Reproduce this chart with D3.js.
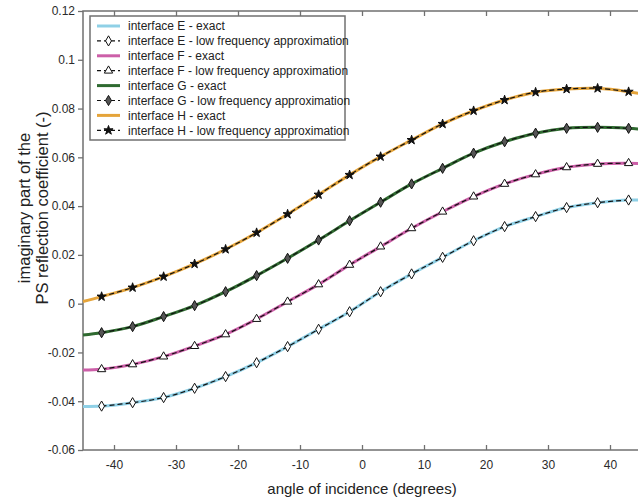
<!DOCTYPE html>
<html>
<head>
<meta charset="utf-8">
<script src="https://cdn.jsdelivr.net/npm/d3@7"></script>
<style>
  body { margin: 0; background: #fff; }
  svg { display: block; font-family: "Liberation Sans", Arial, sans-serif; }
</style>
</head>
<body>
<div id="chart"></div>
<script>
// marker angles of the low frequency approximation
const markerAngles = [-42, -37, -32, -27, -22, -17, -12, -7, -2, 3, 8, 13, 18, 23, 28, 33, 38, 43];
const approxE = [-0.0420, -0.0406, -0.0385, -0.0347, -0.0299, -0.0242, -0.0176, -0.0105, -0.0033, 0.0049, 0.0122, 0.0190, 0.0258, 0.0316, 0.0357, 0.0394, 0.0414, 0.0425];
const approxF = [-0.0269, -0.0249, -0.0217, -0.0174, -0.0126, -0.0063, 0.0008, 0.0079, 0.0159, 0.0234, 0.0309, 0.0377, 0.0439, 0.0491, 0.0530, 0.0559, 0.0573, 0.0576];
const approxG = [-0.0119, -0.0094, -0.0053, -0.0008, 0.0049, 0.0115, 0.0186, 0.0261, 0.0340, 0.0416, 0.0491, 0.0555, 0.0617, 0.0664, 0.0699, 0.0719, 0.0723, 0.0719];
const approxH = [0.0029, 0.0066, 0.0111, 0.0163, 0.0223, 0.0291, 0.0367, 0.0447, 0.0528, 0.0603, 0.0671, 0.0737, 0.0791, 0.0835, 0.0867, 0.0880, 0.0883, 0.0869];

// exact curves, read at the same angles plus the two ends
const exactAngles = [-45, -42, -37, -32, -27, -22, -17, -12, -7, -2, 3, 8, 13, 18, 23, 28, 33, 38, 43, 45];
const exactE = [-0.0422, -0.0420, -0.0406, -0.0385, -0.0347, -0.0299, -0.0242, -0.0176, -0.0105, -0.0033, 0.0049, 0.0122, 0.0190, 0.0258, 0.0316, 0.0357, 0.0394, 0.0414, 0.0425, 0.0424];
const exactF = [-0.0272, -0.0269, -0.0249, -0.0217, -0.0174, -0.0126, -0.0063, 0.0008, 0.0079, 0.0159, 0.0234, 0.0309, 0.0377, 0.0439, 0.0491, 0.0530, 0.0559, 0.0573, 0.0576, 0.0574];
const exactG = [-0.0128, -0.0119, -0.0094, -0.0053, -0.0008, 0.0049, 0.0115, 0.0186, 0.0261, 0.0340, 0.0416, 0.0491, 0.0555, 0.0617, 0.0664, 0.0699, 0.0719, 0.0723, 0.0719, 0.0715];
const exactH = [0.0009, 0.0029, 0.0066, 0.0111, 0.0163, 0.0223, 0.0291, 0.0367, 0.0447, 0.0528, 0.0603, 0.0671, 0.0737, 0.0791, 0.0835, 0.0867, 0.0880, 0.0883, 0.0869, 0.0860];

const xTicks = [-40, -30, -20, -10, 0, 10, 20, 30, 40];
const xTickLabels = ['-40', '-30', '-20', '-10', '0', '10', '20', '30', '40'];
const yTicks = [-0.06, -0.04, -0.02, 0, 0.02, 0.04, 0.06, 0.08, 0.1, 0.12];
const yTickLabels = ['-0.06', '-0.04', '-0.02', '0', '0.02', '0.04', '0.06', '0.08', '0.1', '0.12'];

const legendLabels = [
  'interface E - exact', 'interface E - low frequency approximation',
  'interface F - exact', 'interface F - low frequency approximation',
  'interface G - exact', 'interface G - low frequency approximation',
  'interface H - exact', 'interface H - low frequency approximation'
];

const series = [
  {exact: exactE, approx: approxE, color: '#8fd0e6', symbol: d3.symbolDiamond, fill: '#fff', size: 30},
  {exact: exactF, approx: approxF, color: '#cc5fa8', symbol: d3.symbolTriangle, fill: '#fff', size: 30},
  {exact: exactG, approx: approxG, color: '#2f6a30', symbol: d3.symbolDiamond, fill: '#555', size: 30},
  {exact: exactH, approx: approxH, color: '#e5a43a', symbol: d3.symbolStar, fill: '#111', size: 26}
];

const svg = d3.select('#chart').append('svg').attr('width', 638).attr('height', 499);

const margin = {top: 11, left: 83},
      width = 558,
      height = 439;

const x = d3.scaleLinear().domain([-45, 45]).range([0, width]);
const y = d3.scaleLinear().domain([-0.06, 0.12]).range([height, 0]);

const g = svg.append('g')
    .attr('transform', `translate(${margin.left},${margin.top})`);

const axisColor = '#707070';

// x axis: ticks point inward, on bottom and top
const xAxis = g.append('g')
    .attr('transform', `translate(0,${height})`)
    .call(d3.axisBottom(x).tickValues(xTicks).tickSize(-5).tickPadding(10)
      .tickFormat((d, i) => xTickLabels[i]));
const xAxisTop = g.append('g')
    .call(d3.axisTop(x).tickValues(xTicks).tickSize(-5).tickFormat(''));

// y axis: ticks point outward
const yAxis = g.append('g')
    .call(d3.axisLeft(y).tickValues(yTicks).tickSize(5).tickPadding(3)
      .tickFormat((d, i) => yTickLabels[i]));

[xAxis, xAxisTop, yAxis].forEach(a => {
  a.select('.domain').remove();
  a.selectAll('.tick line').attr('stroke', axisColor).attr('stroke-width', 1.3);
  a.selectAll('.tick text').attr('fill', '#2a2a2a').style('font-size', '12px');
});

g.append('rect')
    .attr('width', width).attr('height', height)
    .attr('fill', 'none').attr('stroke', axisColor).attr('stroke-width', 1.5);

const exactLine = d3.line()
    .x((d, i) => x(exactAngles[i]))
    .y(d => y(d))
    .curve(d3.curveCatmullRom);

const approxLine = d3.line()
    .x((d, i) => x(markerAngles[i]))
    .y(d => y(d))
    .curve(d3.curveCatmullRom);

series.forEach(s => {
  g.append('path')
      .datum(s.exact)
      .attr('fill', 'none')
      .attr('stroke', s.color)
      .attr('stroke-width', 3)
      .attr('d', exactLine);
});

series.forEach(s => {
  g.append('path')
      .datum(s.approx)
      .attr('fill', 'none')
      .attr('stroke', '#111')
      .attr('stroke-width', 1.2)
      .attr('stroke-dasharray', '5,3')
      .attr('d', approxLine);

  g.selectAll(null)
      .data(s.approx)
      .join('path')
      .attr('transform', (d, i) => `translate(${x(markerAngles[i])},${y(d)})`)
      .attr('d', d3.symbol().type(s.symbol).size(s.size))
      .attr('fill', s.fill)
      .attr('stroke', '#111')
      .attr('stroke-width', 1);
});

// legend
const legend = svg.append('g').attr('transform', 'translate(90,16)');
legend.append('rect')
    .attr('width', 255).attr('height', 124)
    .attr('fill', '#fff').attr('stroke', axisColor).attr('stroke-width', 1.5);

legendLabels.forEach((label, i) => {
  const s = series[Math.floor(i / 2)];
  const ry = 10 + i * 14.9;
  const row = legend.append('g').attr('transform', `translate(0,${ry})`);
  if (i % 2 === 0) {
    row.append('line').attr('x1', 7).attr('x2', 30)
        .attr('stroke', s.color).attr('stroke-width', 3);
  } else {
    row.append('line').attr('x1', 7).attr('x2', 30)
        .attr('stroke', '#111').attr('stroke-width', 1.2).attr('stroke-dasharray', '4,3');
    row.append('path')
        .attr('transform', 'translate(18.5,0)')
        .attr('d', d3.symbol().type(s.symbol).size(s.size))
        .attr('fill', s.fill).attr('stroke', '#111').attr('stroke-width', 1);
  }
  row.append('text')
      .attr('x', 38).attr('dy', '0.35em')
      .style('font-size', '12px').attr('fill', '#222')
      .text(label);
});

// axis titles
svg.append('text')
    .attr('x', 362).attr('y', 494)
    .attr('text-anchor', 'middle')
    .style('font-size', '15px').attr('fill', '#222')
    .text('angle of incidence (degrees)');

const yTitle = svg.append('text')
    .attr('transform', 'translate(0,208) rotate(-90)')
    .attr('text-anchor', 'middle')
    .style('font-size', '16.5px').attr('fill', '#222');
yTitle.append('tspan').attr('x', 0).attr('y', 30).text('imaginary part of the');
yTitle.append('tspan').attr('x', 0).attr('y', 48).text('PS reflection coefficient (-)');
</script>
</body>
</html>
